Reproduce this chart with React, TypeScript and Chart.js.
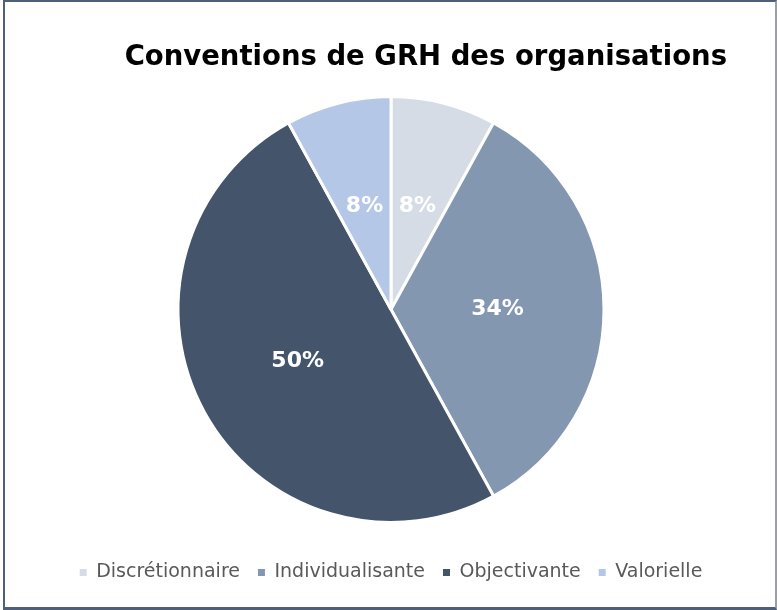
import React, { useEffect, useRef } from "react";
import { Chart, registerables } from "chart.js";

Chart.register(...registerables);

const TITLE = "Conventions de GRH des organisations";
const categories = ["Discrétionnaire", "Individualisante", "Objectivante", "Valorielle"];
const values = [8, 34, 50, 8];
const colors = ["#D6DCE5", "#8497B0", "#44546A", "#B4C7E7"];

const FONT = "'DejaVu Sans', sans-serif";

const sliceLabels = {
  id: "sliceLabels",
  afterDatasetsDraw(chart: any) {
    const ctx = chart.ctx;
    const meta = chart.getDatasetMeta(0);
    ctx.save();
    ctx.font = `bold 22px ${FONT}`;
    ctx.fillStyle = "#FFFFFF";
    ctx.textAlign = "center";
    ctx.textBaseline = "middle";
    meta.data.forEach((arc: any, i: number) => {
      const p = arc.tooltipPosition(false);
      ctx.fillText(`${values[i]}%`, p.x, p.y);
    });
    ctx.restore();
  },
};

export default function App() {
  const ref = useRef<HTMLCanvasElement | null>(null);

  useEffect(() => {
    if (!ref.current) return;
    const chart = new Chart(ref.current, {
      type: "pie",
      data: {
        labels: categories,
        datasets: [
          {
            data: values,
            backgroundColor: colors,
            borderColor: "#FFFFFF",
            borderWidth: 3,
            radius: 213,
          } as any,
        ],
      },
      options: {
        responsive: false,
        animation: false,
        layout: { padding: { left: 55, right: 50, top: 0, bottom: 18 } },
        plugins: {
          title: {
            display: true,
            text: TITLE,
            align: "end",
            color: "#000000",
            font: { family: FONT, size: 27.5, weight: "bold" },
            padding: { top: 41, bottom: 0 },
          },
          legend: {
            position: "bottom",
            labels: {
              boxWidth: 7,
              boxHeight: 7,
              padding: 18,
              color: "#595959",
              font: { family: FONT, size: 19 },
              generateLabels: (chart: any) =>
                categories.map((c, i) => ({
                  text: c,
                  fillStyle: colors[i],
                  strokeStyle: colors[i],
                  lineWidth: 0,
                  fontColor: "#595959",
                  hidden: false,
                  index: i,
                })),
            },
          },
          tooltip: { enabled: false },
        },
      },
      plugins: [sliceLabels],
    });
    return () => chart.destroy();
  }, []);

  return (
    <div style={{ position: "fixed", left: 0, top: 0, width: 777, height: 610, background: "#FFFFFF" }}>
      <div
        style={{
          position: "absolute",
          left: 3,
          top: 0,
          width: 774,
          height: 610,
          boxSizing: "border-box",
          borderTop: "2px solid #4F5F77",
          borderLeft: "2px solid #4F5F77",
          borderBottom: "3px solid #4F5F77",
          borderRight: "2px solid #9A9EA5",
        }}
      />
      <canvas ref={ref} width={777} height={610} style={{ position: "absolute", left: 0, top: 0 }} />
    </div>
  );
}
